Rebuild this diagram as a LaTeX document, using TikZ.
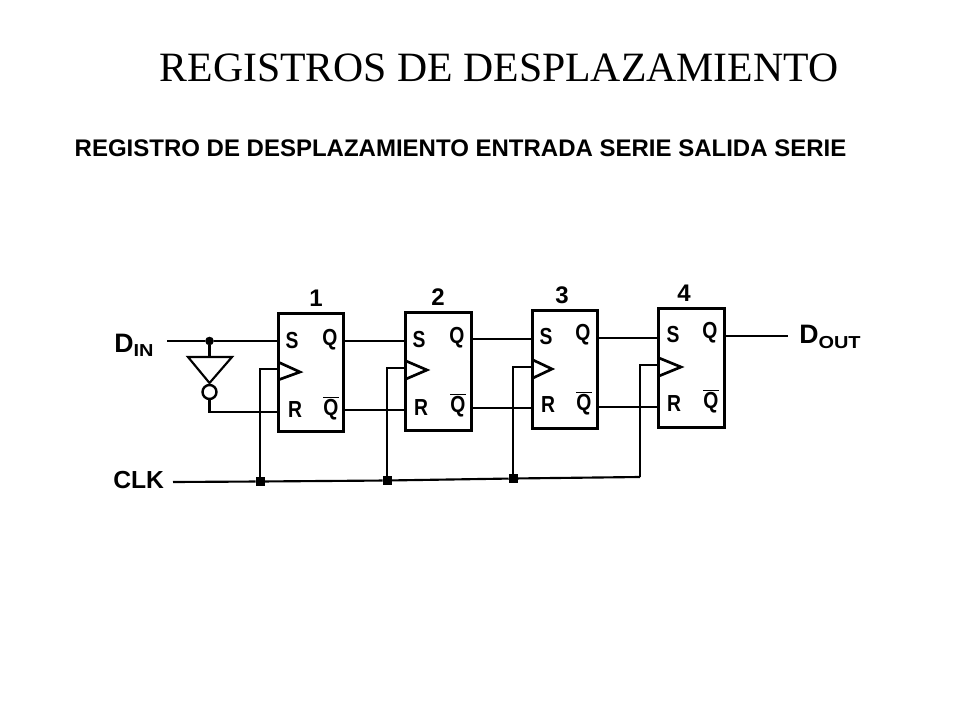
\documentclass[tikz,border=0pt]{standalone}
\usepackage{fontspec}
\setmainfont{Liberation Sans}
\newfontfamily\titlefont{Liberation Serif}
\tikzstyle{flipflop}=[rectangle, draw, line width=2.2pt, minimum width=49pt, minimum height=89pt, inner sep=0pt]
\tikzstyle{wire}=[line width=1.6pt]
\tikzstyle{dot}=[rectangle, draw, fill=black, inner sep=0pt, minimum size=6pt]
\tikzstyle{pin}=[font=\bfseries\fontsize{14.5}{15}\selectfont, inner sep=0pt]
\tikzstyle{boxnum}=[font=\bfseries\fontsize{18}{18}\selectfont, inner sep=0pt]
\tikzstyle{signal}=[font=\bfseries\fontsize{18.5}{18}\selectfont, inner sep=0pt, anchor=base west]
\newcommand{\sigsub}[1]{\raisebox{-3.5pt}{\fontsize{13}{14}\selectfont\scalebox{1.15}[1]{#1}}}
\newcommand{\tallpin}[1]{\scalebox{1}[1.2]{#1}}

\begin{document}
\begin{tikzpicture}[x=0.75pt, y=-0.75pt]
			\useasboundingbox (0,0) rectangle (960,720);

			\node[inner sep=0pt, font=\titlefont\fontsize{31.3}{32}\selectfont] (title) at (499, 68) {REGISTROS DE DESPLAZAMIENTO};
			\node[inner sep=0pt, font=\bfseries\fontsize{18}{18}\selectfont] (subtitle) at (460.5, 148) {REGISTRO DE DESPLAZAMIENTO ENTRADA SERIE SALIDA SERIE};

			\node[flipflop] (ff1) at (311.0, 372.5) {};
			\node[flipflop] (ff2) at (438.5, 371.5) {};
			\node[flipflop] (ff3) at (565.0, 369.5) {};
			\node[flipflop] (ff4) at (691.5, 368.0) {};

			\node[boxnum] (n1) at (316, 298) {1};
			\node[boxnum] (n2) at (438, 297) {2};
			\node[boxnum] (n3) at (562, 295) {3};
			\node[boxnum] (n4) at (684, 293) {4};

			% Pin letters
			\node[pin] (s1) at (292, 341) {\tallpin{S}};
			\node[pin] (q1) at (330, 340) {\tallpin{Q}};
			\node[pin] (r1) at (295, 410) {\tallpin{R}};
			\node[pin] (nq1) at (331, 408) {\tallpin{$\overline{\mbox{Q}}$}};
			\node[pin] (s2) at (419, 340) {\tallpin{S}};
			\node[pin] (q2) at (457, 338) {\tallpin{Q}};
			\node[pin] (r2) at (421, 408) {\tallpin{R}};
			\node[pin] (nq2) at (458, 405) {\tallpin{$\overline{\mbox{Q}}$}};
			\node[pin] (s3) at (546, 337) {\tallpin{S}};
			\node[pin] (q3) at (583, 335) {\tallpin{Q}};
			\node[pin] (r3) at (548, 405) {\tallpin{R}};
			\node[pin] (nq3) at (584, 403) {\tallpin{$\overline{\mbox{Q}}$}};
			\node[pin] (s4) at (673, 335) {\tallpin{S}};
			\node[pin] (q4) at (710, 333) {\tallpin{Q}};
			\node[pin] (r4) at (674, 404) {\tallpin{R}};
			\node[pin] (nq4) at (711, 401) {\tallpin{$\overline{\mbox{Q}}$}};

			% Signal names
			\node[signal] (din) at (114, 352) {{\fontsize{20}{20}\selectfont D}\sigsub{IN}};
			\node[signal] (clk) at (113, 488) {CLK};
			\node[signal] (dout) at (799, 344) {{\fontsize{20}{20}\selectfont D}\sigsub{OUT}};

			% Pins on the box edges
			\coordinate (ps1) at (278, 341);
			\coordinate (pr1) at (278, 412);
			\coordinate (pk1) at (278, 369);
			\coordinate (pq1) at (344, 341);
			\coordinate (pn1) at (344, 410);
			\coordinate (ps2) at (406, 341);
			\coordinate (pr2) at (406, 410);
			\coordinate (pk2) at (406, 368);
			\coordinate (pq2) at (471, 339);
			\coordinate (pn2) at (471, 408);
			\coordinate (ps3) at (533, 339);
			\coordinate (pr3) at (533, 408);
			\coordinate (pk3) at (533, 367);
			\coordinate (pq3) at (597, 338);
			\coordinate (pn3) at (597, 407);
			\coordinate (ps4) at (659, 338);
			\coordinate (pr4) at (659, 407);
			\coordinate (pk4) at (659, 365);
			\coordinate (pq4) at (724, 336);

			% Clock triangles
			\draw[wire, line width=2pt] (278, 362) -- (300, 372) -- (278, 380);
			\draw[wire, line width=2pt] (406, 361) -- (427, 370) -- (406, 379);
			\draw[wire, line width=2pt] (533, 360) -- (552, 369) -- (533, 378);
			\draw[wire, line width=2pt] (659, 358) -- (681, 367) -- (659, 376);

			% Inverter
			\coordinate (it) at (209.5, 357);
			\draw[wire] (188, 357) -- (232, 357) -- (209.5, 383) -- cycle;
			\node[circle, draw, line width=1.8pt, inner sep=0pt, minimum size=10.5pt] (bub) at (209.5, 392) {};

			% Input side
			\coordinate (dinl) at (167, 341);
			\node[dot, circle] (dj) at (209.5, 341) {};
			\draw[wire] (dinl)edge(dj) (dj)edge(ps1) (dj)edge(it);
			\draw[wire] (bub) |- (pr1);

			% Between the boxes
			\draw[wire] (pq1)edge(ps2) (pn1)edge(pr2) (pq2)edge(ps3) (pn2)edge(pr3) (pq3)edge(ps4) (pn3)edge(pr4);
			\coordinate (doutl) at (788, 336);
			\draw[wire, line width=1.2pt] (pq4)--(doutl);

			% Clock line
			\coordinate (clkl) at (173, 482);
			\node[dot] (cj1) at (260, 481.5) {};
			\node[dot] (cj2) at (387, 480.5) {};
			\node[dot] (cj3) at (513, 478.5) {};
			\coordinate (cj4) at (640, 477);
			\draw[wire] (clkl)--(cj1)--(cj2)--(cj3)--(cj4);
			\draw[wire] (cj1) |- (pk1);
			\draw[wire] (cj2) |- (pk2);
			\draw[wire] (cj3) |- (pk3);
			\draw[wire] (cj4) |- (pk4);
		\end{tikzpicture}
\end{document}
